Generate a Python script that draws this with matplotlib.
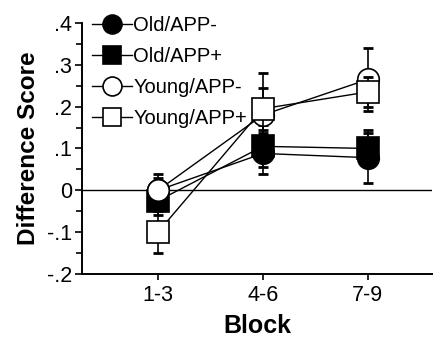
import matplotlib.pyplot as plt
import numpy as np

# Data
blocks = ["1-3", "4-6", "7-9"]
labels = ["Old/APP-", "Old/APP+", "Young/APP-", "Young/APP+"]
old_minus = [0.0, 0.088, 0.078]
old_plus = [-0.025, 0.105, 0.10]
young_minus = [0.0, 0.18, 0.265]
young_plus = [-0.10, 0.195, 0.235]
err_old_minus = [0.03, 0.05, 0.06]
err_old_plus = [0.035, 0.05, 0.045]
err_young_minus = [0.04, 0.10, 0.075]
err_young_plus = [0.05, 0.05, 0.035]

plt.rcParams["font.family"] = ["Liberation Sans", "DejaVu Sans"]

fig = plt.figure(figsize=(4.34, 3.37), dpi=100)
ax = fig.add_axes([0.189, 0.187, 0.806, 0.745])

x = np.arange(1, len(blocks) + 1)
series = [
    (old_minus, err_old_minus, "o", "black"),
    (old_plus, err_old_plus, "s", "black"),
    (young_minus, err_young_minus, "o", "white"),
    (young_plus, err_young_plus, "s", "white"),
]

for i, (vals, errs, marker, face) in enumerate(series):
    ax.errorbar(
        x, vals, yerr=errs, fmt="none", ecolor="black", elinewidth=1.2,
        capsize=3.5, capthick=2, zorder=2 + i,
    )
    ax.plot(
        x, vals, "-", marker=marker, color="black", markerfacecolor=face,
        markeredgecolor="black", markeredgewidth=1.2, markersize=15.5,
        linewidth=1, label=labels[i], zorder=3 + i,
    )

# Zero reference line
ax.axhline(0, color="black", linewidth=1, zorder=1)

ax.set_xlim(0.276, 3.61)
ax.set_ylim(-0.2, 0.4)
ax.set_xticks(x)
ax.set_xticklabels(blocks)
ax.set_yticks([-0.2, -0.1, 0, 0.1, 0.2, 0.3, 0.4])
ax.set_yticklabels(["-.2", "-.1", "0", ".1", ".2", ".3", ".4"])
ax.set_yticks(np.arange(-0.15, 0.4, 0.1), minor=True)
ax.tick_params(axis="both", which="major", labelsize=15.5, length=5, width=1.2,
               pad=2)
ax.tick_params(axis="y", which="minor", length=4, width=1.2)
ax.tick_params(axis="x", which="major", length=4, pad=4)

for side in ["top", "right"]:
    ax.spines[side].set_visible(False)
for side in ["left", "bottom"]:
    ax.spines[side].set_linewidth(1.4)

ax.set_xlabel("Block", fontsize=18, fontweight="bold", labelpad=6)
ax.set_ylabel("Difference Score", fontsize=17.5, fontweight="bold", labelpad=5)

ax.legend(
    loc="upper left", bbox_to_anchor=(-0.006, 1.075), frameon=False,
    fontsize=14.5, handlelength=2.0, handletextpad=0.05, labelspacing=0.6,
    borderaxespad=0.2, markerscale=0.88,
)

fig.savefig("out.png", dpi=100)
